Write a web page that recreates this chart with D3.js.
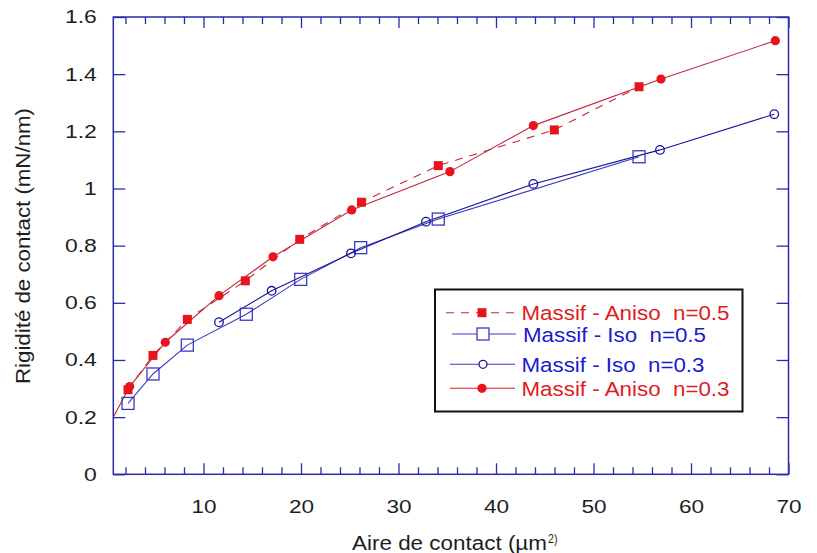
<!DOCTYPE html>
<html><head><meta charset="utf-8">
<script src="https://cdn.jsdelivr.net/npm/d3@7"></script>
<style>
html,body{margin:0;padding:0;background:#fff;}
svg{display:block;}
text{font-family:"Liberation Sans",Arial,sans-serif;}
</style></head>
<body>
<svg id="chart" width="817" height="553"></svg>
<script>
// ---- data ----
const anisoN05X = [2.26, 4.82, 8.34, 14.29, 19.87, 26.2, 34.08, 45.98, 54.67];
const anisoN05Y = [0.296, 0.416, 0.542, 0.677, 0.822, 0.952, 1.080, 1.205, 1.356];

const isoN05X = [2.26, 4.82, 8.34, 14.39, 19.97, 26.12, 34.08, 54.67];
const isoN05Y = [0.248, 0.351, 0.452, 0.560, 0.682, 0.793, 0.893, 1.111];

const isoN03X = [11.59, 16.99, 25.13, 32.82, 43.83, 56.82, 68.54];
const isoN03Y = [0.532, 0.642, 0.773, 0.884, 1.016, 1.135, 1.260];

const anisoN03X = [2.43, 6.08, 11.59, 17.13, 25.2, 35.28, 43.83, 56.92, 68.65];
const anisoN03Y = [0.307, 0.462, 0.625, 0.761, 0.925, 1.059, 1.220, 1.383, 1.517];
// unmarked start of the Aniso n=0.3 curve (at the left axis)
const anisoN03StartX = [0.75];
const anisoN03StartY = [0.2];

const xMajorTicks = [10, 20, 30, 40, 50, 60, 70];
const xMinorTicks = [2,4,6,8,12,14,16,18,22,24,26,28,32,34,36,38,42,44,46,48,52,54,56,58,62,64,66,68];
const yTicks = [0, 0.2, 0.4, 0.6, 0.8, 1, 1.2, 1.4, 1.6];
const yTickLabels = ["0", "0.2", "0.4", "0.6", "0.8", "1", "1.2", "1.4", "1.6"];
const legendLabels = ["Massif - Aniso  n=0.5", "Massif - Iso  n=0.5", "Massif - Iso  n=0.3", "Massif - Aniso  n=0.3"];
const xTitle = "Aire de contact (µm";
const xTitleSup = "2)";
const yTitle = "Rigidité de contact (mN/nm)";

// ---- layout ----
const svg = d3.select("#chart");
const L = 113.3, R = 788.5, T = 17, B = 474.3;
const x = d3.scaleLinear().domain([0.75, 70]).range([L, R]);
const y = d3.scaleLinear().domain([0, 1.6]).range([B, T]);

const axisCol = "#2a2aae";
const redMark = "#e8131c", redLine = "#c4283a";
const blueSqLine = "#3a3ac2", blueCirLine = "#16169c";
const redText = "#e01b24", blueText = "#1a1ad2";

function stretch(sel, f){
  sel.each(function(){
    const w = this.getComputedTextLength();
    d3.select(this).attr("textLength", w*f).attr("lengthAdjust","spacingAndGlyphs");
  });
}
function fitTo(sel, w){
  sel.attr("textLength", w).attr("lengthAdjust","spacingAndGlyphs");
}

// clip
svg.append("defs").append("clipPath").attr("id","clip")
  .append("rect").attr("x",L).attr("y",T).attr("width",R-L).attr("height",B-T);

// axes
function styleAxis(g){
  g.select(".domain").remove();
  g.selectAll(".tick line").attr("stroke", axisCol).attr("stroke-width",1.3);
  g.selectAll(".tick text").attr("fill","#1e1e1e").style("font-size","18.5px")
    .style("font-family","'Liberation Sans',Arial,sans-serif");
}
// bottom major with labels
const bx = svg.append("g").attr("transform",`translate(0,${B})`)
  .call(d3.axisBottom(x).tickValues(xMajorTicks).tickSize(-11).tickPadding(26).tickFormat(d3.format("d")))
  .call(styleAxis);
stretch(bx.selectAll(".tick text"), 1.22);
svg.append("g").attr("transform",`translate(0,${B})`)
  .call(d3.axisBottom(x).tickValues(xMinorTicks).tickSize(-7).tickFormat(""))
  .call(styleAxis);
// top mirrored
svg.append("g").attr("transform",`translate(0,${T})`)
  .call(d3.axisTop(x).tickValues(xMajorTicks).tickSize(-11).tickFormat(""))
  .call(styleAxis);
svg.append("g").attr("transform",`translate(0,${T})`)
  .call(d3.axisTop(x).tickValues(xMinorTicks).tickSize(-7).tickFormat(""))
  .call(styleAxis);
// left
const ly = svg.append("g").attr("transform",`translate(${L},0)`)
  .call(d3.axisLeft(y).tickValues(yTicks).tickSize(-12).tickPadding(16.5)
    .tickFormat((d,i)=>yTickLabels[i]))
  .call(styleAxis);
stretch(ly.selectAll(".tick text"), 1.24);
// right
svg.append("g").attr("transform",`translate(${R},0)`)
  .call(d3.axisRight(y).tickValues(yTicks).tickSize(-12).tickFormat(""))
  .call(styleAxis);
// frame
svg.append("rect").attr("x",L).attr("y",T).attr("width",R-L).attr("height",B-T)
  .attr("fill","none").attr("stroke",axisCol).attr("stroke-width",1.5);

// titles
const xt = svg.append("text").attr("x",352).attr("y",550).attr("fill","#1e1e1e").style("font-size","19.5px");
const xt1 = xt.append("tspan").text(xTitle);
fitTo(xt1, 195);
const xt2 = svg.append("text").attr("x",548).attr("y",543).attr("fill","#1e1e1e").style("font-size","12.5px").text(xTitleSup);
fitTo(xt2, 9.5);
const yt = svg.append("text").attr("transform","translate(30,246) rotate(-90)")
  .attr("text-anchor","middle").attr("fill","#1e1e1e").style("font-size","19.5px").text(yTitle);
fitTo(yt, 276);

// series
const line = d3.line().x(d=>x(d[0])).y(d=>y(d[1]));
const zip = (a,b)=>a.map((v,i)=>[v,b[i]]);
const plot = svg.append("g").attr("clip-path","url(#clip)");

const sA05 = zip(anisoN05X, anisoN05Y);
const sI05 = zip(isoN05X, isoN05Y);
const sI03 = zip(isoN03X, isoN03Y);
const sA03 = zip(anisoN03StartX.concat(anisoN03X), anisoN03StartY.concat(anisoN03Y));
const sA03m = zip(anisoN03X, anisoN03Y);

plot.append("path").datum(sI05).attr("d",line).attr("fill","none").attr("stroke",blueSqLine).attr("stroke-width",1.1);
plot.append("path").datum(sI03).attr("d",line).attr("fill","none").attr("stroke",blueCirLine).attr("stroke-width",1.1);
plot.append("path").datum(sA03).attr("d",line).attr("fill","none").attr("stroke",redLine).attr("stroke-width",1.1);
plot.append("path").datum(sA05).attr("d",line).attr("fill","none").attr("stroke",redLine).attr("stroke-width",1.1)
  .attr("stroke-dasharray","8,7");

function squares(g, data, s, fill, stroke){
  g.selectAll(null).data(data).enter().append("rect")
    .attr("x",d=>x(d[0])-s/2).attr("y",d=>y(d[1])-s/2).attr("width",s).attr("height",s)
    .attr("fill",fill).attr("stroke",stroke).attr("stroke-width",stroke==="none"?0:1.3);
}
function circles(g, data, r, fill, stroke){
  g.selectAll(null).data(data).enter().append("circle")
    .attr("cx",d=>x(d[0])).attr("cy",d=>y(d[1])).attr("r",r)
    .attr("fill",fill).attr("stroke",stroke).attr("stroke-width",stroke==="none"?0:1.3);
}
squares(plot, sI05, 12, "none", blueSqLine);
circles(plot, sI03, 4.3, "none", blueCirLine);
circles(plot, sA03m, 4.6, redMark, "none");
squares(plot, sA05, 9, redMark, "none");

// legend
const lg = svg.append("g");
lg.append("rect").attr("x",435).attr("y",289.5).attr("width",307.5).attr("height",122)
  .attr("fill","#fff").attr("stroke","#111").attr("stroke-width",2);
const rows = [312.7, 334, 364.3, 388.3];
const lx0 = 449, lx1 = 515, lm = 482, tx = 521.5;
// row 1
lg.append("line").attr("x1",lx0-3).attr("x2",lx1).attr("y1",rows[0]).attr("y2",rows[0])
  .attr("stroke",redLine).attr("stroke-width",1.1).attr("stroke-dasharray","8,7");
lg.append("rect").attr("x",lm-4.5).attr("y",rows[0]-4.5).attr("width",9).attr("height",9).attr("fill",redMark);
// row 2
lg.append("line").attr("x1",lx0+3).attr("x2",lx1+1).attr("y1",rows[1]).attr("y2",rows[1])
  .attr("stroke",blueSqLine).attr("stroke-width",1.1);
lg.append("rect").attr("x",lm+1-6).attr("y",rows[1]-6).attr("width",12).attr("height",12)
  .attr("fill","#fff").attr("stroke",blueSqLine).attr("stroke-width",1.3);
// row 3
lg.append("line").attr("x1",lx0+1).attr("x2",lx1).attr("y1",rows[2]).attr("y2",rows[2])
  .attr("stroke",blueSqLine).attr("stroke-width",1.1);
lg.append("circle").attr("cx",lm+1).attr("cy",rows[2]).attr("r",4).attr("fill","#fff")
  .attr("stroke",blueCirLine).attr("stroke-width",1.3);
// row 4
lg.append("line").attr("x1",lx0+1).attr("x2",lx1).attr("y1",rows[3]).attr("y2",rows[3])
  .attr("stroke",redMark).attr("stroke-width",1.1);
lg.append("circle").attr("cx",lm).attr("cy",rows[3]).attr("r",4.6).attr("fill",redMark);

const lcols = [redText, blueText, blueText, redText];
const lwidths = [208, 183, 183, 208];
const lxs = [tx, tx+1.5, tx, tx];
legendLabels.forEach((t,i)=>{
  const el = lg.append("text").attr("x",lxs[i]).attr("y",rows[i]+7.5).attr("fill",lcols[i])
    .style("font-size","20.5px").style("white-space","pre").attr("xml:space","preserve").text(t);
  fitTo(el, lwidths[i]);
});
</script>
</body></html>
